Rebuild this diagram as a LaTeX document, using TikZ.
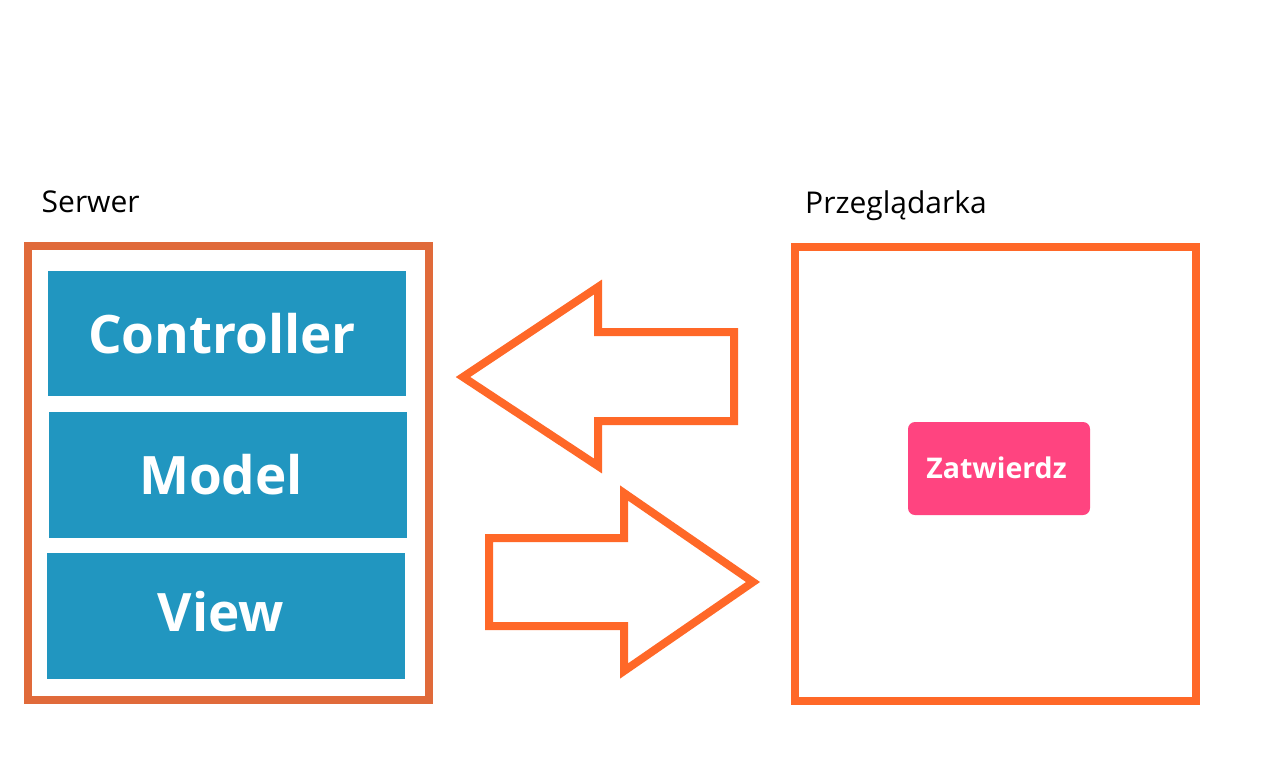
\documentclass[tikz,border=0pt]{standalone}
\usepackage{fontspec}
\setmainfont{Open Sans}
\definecolor{serwerorange}{RGB}{224,106,58}
\definecolor{arroworange}{RGB}{255,104,40}
\definecolor{mvcblue}{RGB}{33,150,192}
\definecolor{btnpink}{RGB}{255,68,128}
\tikzset{
  outerbox/.style={draw, line width=8pt, rectangle, inner sep=0pt, fill=white},
  mvcbox/.style={rectangle, fill=mvcblue, inner sep=0pt},
  mvctext/.style={inner sep=0pt, text=white, font=\bfseries\fontsize{53}{60}\selectfont},
  caption/.style={inner sep=0pt, anchor=base west, font=\fontsize{30}{34}\selectfont},
  bigarrow/.style={draw=arroworange, line width=8pt, line join=miter, fill=white},
  button/.style={rectangle, rounded corners=7pt, fill=btnpink, inner sep=0pt},
  buttontext/.style={inner sep=0pt, text=white, font=\bfseries\fontsize{28.5}{32}\selectfont}
}
\begin{document}
\begin{tikzpicture}[x=1pt,y=-1pt]
\useasboundingbox (0,0) rectangle (1261,763);
\fill[white] (0,0) rectangle (1261,763);
% titles
\node[caption] (serwerlbl) at (41.5,212) {Serwer};
\node[caption] (przegllbl) at (805,213) {Przeglądarka};
% server box
\node[outerbox, draw=serwerorange, minimum width=401pt, minimum height=454pt] (serwer) at (228.5,473) {};
\node[mvcbox, minimum width=358pt, minimum height=125pt] (controller) at (227,333.5) {};
\node[mvcbox, minimum width=358pt, minimum height=126pt] (model) at (228,475) {};
\node[mvcbox, minimum width=358pt, minimum height=126pt] (view) at (226,616) {};
\node[mvctext] (controllertxt) at (222,334) {Controller};
\node[mvctext] (modeltxt) at (221,475) {Model};
\node[mvctext] (viewtxt) at (221,612) {View};
% browser box
\node[outerbox, draw=arroworange, minimum width=400.5pt, minimum height=454.3pt] (browser) at (995.25,473.85) {};
\node[button, minimum width=182pt, minimum height=93pt] (zatwierdz) at (999,468.5) {};
\node[buttontext] (zatwierdztxt) at (996.5,468) {Zatwierdz};
% arrows
\draw[bigarrow] (463,377) -- (598,287) -- (598,332) -- (734,332) -- (734,421) -- (598,421) -- (598,466) -- cycle;
\draw[bigarrow] (753,582) -- (624,493) -- (624,538) -- (489,538) -- (489,626) -- (624,626) -- (624,671) -- cycle;
\end{tikzpicture}
\end{document}
